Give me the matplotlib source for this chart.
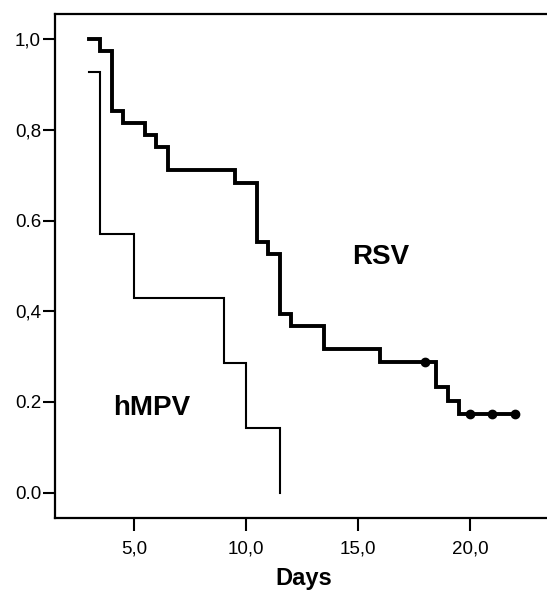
import matplotlib
matplotlib.use("Agg")
import matplotlib.pyplot as plt

plt.rcParams['font.family'] = ['Liberation Sans', 'DejaVu Sans']

# Kaplan-Meier step data
rsv_days = [3.0, 3.5, 4.0, 4.5, 5.5, 6.0, 6.5, 9.5, 10.5, 11.0, 11.5, 12.0, 13.5, 16.0, 18.5, 19.0, 19.5, 22.0]
rsv_surv = [1.0, 0.974, 0.842, 0.816, 0.789, 0.763, 0.711, 0.684, 0.553, 0.526, 0.395, 0.368, 0.316, 0.289, 0.232, 0.203, 0.174, 0.174]
rsv_cens_days = [18.0, 20.0, 21.0, 22.0]
rsv_cens_surv = [0.289, 0.174, 0.174, 0.174]

hmpv_days = [3.0, 3.5, 5.0, 9.0, 10.0, 11.5]
hmpv_surv = [0.929, 0.571, 0.429, 0.286, 0.143, 0.0]

x_ticks = [5, 10, 15, 20]
x_tick_labels = ["5,0", "10,0", "15,0", "20,0"]
y_ticks = [0.0, 0.2, 0.4, 0.6, 0.8, 1.0]
y_tick_labels = ["0.0", "0.2", "0,4", "0.6", "0,8", "1,0"]

fig = plt.figure(figsize=(5.47, 5.93), dpi=100)
ax = fig.add_axes([55/547, 1 - 518/593, 1 - 55/547 + 0.01, (518 - 14)/593])

ax.step(rsv_days, rsv_surv, where='post', color='black', lw=2.8, solid_joinstyle='miter')
ax.plot(rsv_cens_days, rsv_cens_surv, 'o', color='black', markersize=6)
ax.step(hmpv_days, hmpv_surv, where='post', color='black', lw=1.5, solid_joinstyle='miter')

ax.set_xlim(1.47, 23.44 + 0.01 * 547 / 22.42)
ax.set_ylim(-0.056, 1.056)

ax.set_xticks(x_ticks)
ax.set_xticklabels(x_tick_labels)
ax.set_yticks(y_ticks)
ax.set_yticklabels(y_tick_labels)
ax.tick_params(axis='both', direction='out', length=9, width=1.5, labelsize=13.5, colors='black')
ax.tick_params(axis='x', pad=7)
ax.tick_params(axis='y', pad=1)

for s in ['left', 'bottom', 'top']:
    ax.spines[s].set_linewidth(1.6)
ax.spines['right'].set_visible(False)

ax.text(16.0, 0.52, "RSV", fontsize=20, fontweight='bold', ha='center', va='center')
ax.text(5.8, 0.187, "hMPV", fontsize=20, fontweight='bold', ha='center', va='center')

fig.text(304/547, 1 - 578/593, "Days", fontsize=17, fontweight='bold', ha='center', va='center')

fig.savefig("out.png", dpi=100, facecolor='white')
